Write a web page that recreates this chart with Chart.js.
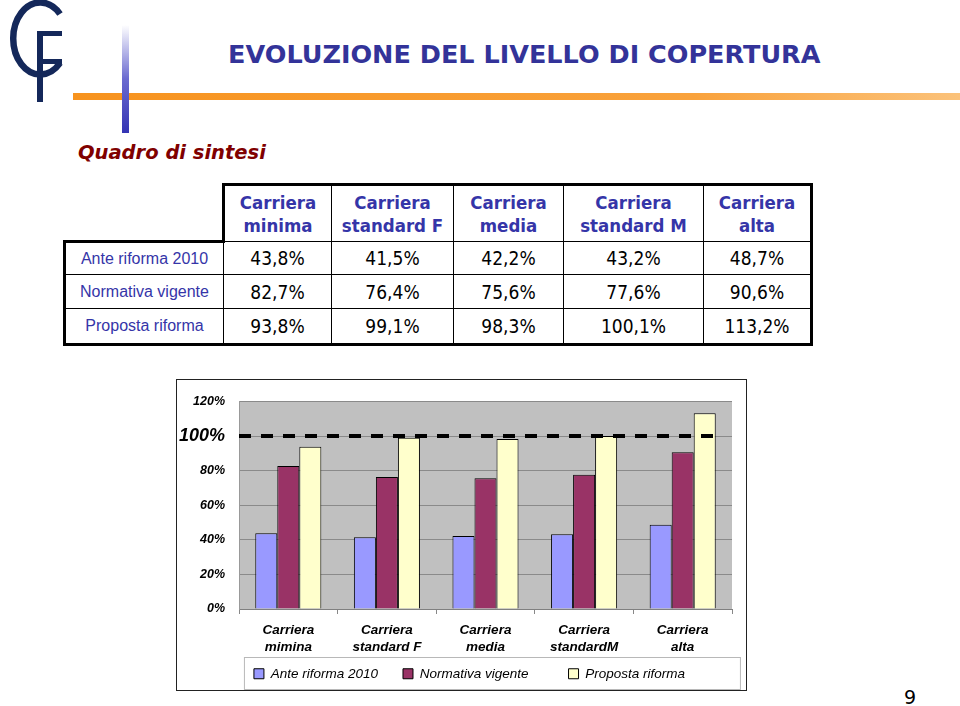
<!DOCTYPE html>
<html>
<head>
<meta charset="utf-8">
<script src="https://cdn.jsdelivr.net/npm/chart.js@4/dist/chart.umd.min.js"></script>
<style>
  html, body { margin: 0; padding: 0; background: #fff; }
  #page { position: relative; width: 960px; height: 706px; overflow: hidden; }
  #logo { position: absolute; left: 0; top: 0; }
  #hline { position: absolute; left: 73px; top: 93px; width: 887px; height: 7px;
           background: linear-gradient(to right, #f7931e, #f9a23c 70%, #fbc27a); }
  #vline { position: absolute; left: 122px; top: 25px; width: 7px; height: 108px;
           background: linear-gradient(to bottom, #ffffff, #6a6ad0 50%, #3434b4); }
  #title { position: absolute; left: 228px; top: 39px; font-family: "DejaVu Sans", sans-serif;
           font-weight: bold; font-size: 25.5px; color: #333399; white-space: nowrap; }
  #subtitle { position: absolute; left: 78px; top: 141px; font-family: "DejaVu Sans", sans-serif;
              font-weight: bold; font-style: italic; font-size: 19.5px; color: #800000; white-space: nowrap; }
  #tbl { position: absolute; left: 63px; top: 183px; border-collapse: collapse; table-layout: fixed; }
  #tbl td { border: 1px solid #000; text-align: center; padding: 0; }
  #tbl tr.head td { height: 55px; font-family: "DejaVu Sans Condensed", "DejaVu Sans", sans-serif;
                    font-weight: bold; font-size: 18.5px; color: #3535a8; line-height: 23px;
                    border-top: 3px solid #000; }
  #tbl tr.head td.corner { border: none; }
  #tbl td.lab { font-family: "Liberation Sans", Arial, sans-serif; font-size: 16px; color: #3535a8;
                border-left: 3px solid #000; }
  #tbl td.val { font-family: "DejaVu Sans Condensed", "DejaVu Sans", sans-serif; font-size: 19px; color: #000; }
  #tbl td.last { border-right: 3px solid #000; }
  #tbl tr.r1 td { height: 31px; }
  #tbl tr.r1 td.lab { border-top: 3px solid #000; }
  #tbl tr.r2 td { height: 33px; }
  #tbl tr.r3 td { height: 34px; border-bottom: 3px solid #000; }
  #tbl tr.head td.first { border-left: 3px solid #000; }
  #chartBox { position: absolute; left: 176px; top: 379px; width: 571px; height: 312px;
              box-sizing: border-box; border: 1px solid #222; background: #fff; }
  #pnum { position: absolute; left: 904px; top: 686px; font-family: "DejaVu Sans", sans-serif;
          font-size: 19px; color: #000; }
</style>
</head>
<body>
<div id="page">
  <svg id="logo" width="80" height="110" viewBox="0 0 80 110">
    <path d="M 60 14 A 27 36 0 1 0 60 63" fill="none" stroke="#14285a" stroke-width="6.5"/>
    <rect x="37" y="31" width="6" height="71" fill="#14285a"/>
    <rect x="37" y="31" width="25" height="5" fill="#14285a"/>
    <rect x="37" y="59" width="25" height="5" fill="#14285a"/>
  </svg>
  <div id="hline"></div>
  <div id="vline"></div>
  <div id="title">EVOLUZIONE DEL LIVELLO DI COPERTURA</div>
  <div id="subtitle">Quadro di sintesi</div>

  <table id="tbl">
    <colgroup>
      <col style="width:159px"><col style="width:108px"><col style="width:122px">
      <col style="width:110px"><col style="width:140px"><col style="width:108px">
    </colgroup>
    <tr class="head">
      <td class="corner"></td>
      <td class="first">Carriera<br>minima</td>
      <td>Carriera<br>standard F</td>
      <td>Carriera<br>media</td>
      <td>Carriera<br>standard M</td>
      <td class="last">Carriera<br>alta</td>
    </tr>
    <tr class="r1"><td class="lab">Ante riforma 2010</td><td class="val">43,8%</td><td class="val">41,5%</td><td class="val">42,2%</td><td class="val">43,2%</td><td class="val last">48,7%</td></tr>
    <tr class="r2"><td class="lab">Normativa vigente</td><td class="val">82,7%</td><td class="val">76,4%</td><td class="val">75,6%</td><td class="val">77,6%</td><td class="val last">90,6%</td></tr>
    <tr class="r3"><td class="lab">Proposta riforma</td><td class="val">93,8%</td><td class="val">99,1%</td><td class="val">98,3%</td><td class="val">100,1%</td><td class="val last">113,2%</td></tr>
  </table>

  <div id="chartBox"><canvas id="coverChart"></canvas></div>
  <div id="pnum">9</div>
</div>

<script>
// chart data (percent)
const categories = [
  ['Carriera', 'mimina'],
  ['Carriera', 'standard F'],
  ['Carriera', 'media'],
  ['Carriera', 'standardM'],
  ['Carriera', 'alta']
];
const seriesNames = ['Ante riforma 2010', 'Normativa vigente', 'Proposta riforma'];
const anteRiforma = [43.8, 41.5, 42.2, 43.2, 48.7];
const normativaVigente = [82.7, 76.4, 75.6, 77.6, 90.6];
const propostaRiforma = [93.8, 99.1, 98.3, 100.1, 113.2];
const yTicks = [0, 20, 40, 60, 80, 100, 120];
const refLine = 100;

const colors = ['#9999ff', '#993366', '#ffffcc'];
const legendGap = [4, 8, 0]; // extra spaces after legend text

const plotBg = {
  id: 'plotBg',
  beforeDraw(chart) {
    const { ctx, chartArea: a } = chart;
    ctx.save();
    ctx.fillStyle = '#c0c0c0';
    ctx.fillRect(a.left, a.top, a.right - a.left, a.bottom - a.top);
    ctx.restore();
  }
};

const dashLine = {
  id: 'dashLine',
  afterDatasetsDraw(chart) {
    const { ctx, chartArea: a, scales } = chart;
    const y = scales.y.getPixelForValue(refLine);
    ctx.save();
    ctx.strokeStyle = '#000';
    ctx.lineWidth = 4;
    ctx.setLineDash([12, 10]);
    ctx.beginPath();
    ctx.moveTo(a.left, y);
    ctx.lineTo(a.right - 9, y);
    ctx.stroke();
    ctx.restore();
  }
};

// legend sits a bit right of centre in the original
const legendFrame = {
  id: 'legendFrame',
  afterLayout(chart) {
    chart.legend.left += 15;
    chart.legend.right += 15;
  },
  afterDraw(chart) {
    const lg = chart.legend;
    const hb = lg.legendHitBoxes;
    if (!hb || !hb.length) return;
    const left = hb[0].left - 10;
    const ctx = chart.ctx;
    ctx.save();
    ctx.strokeStyle = '#b8b8b8';
    ctx.lineWidth = 1;
    ctx.strokeRect(left + 0.5, lg.top + 0.5, 496, 32);
    ctx.restore();
  }
};

new Chart(document.getElementById('coverChart'), {
  type: 'bar',
  data: {
    labels: categories,
    datasets: [
      { label: seriesNames[0], data: anteRiforma, backgroundColor: colors[0] },
      { label: seriesNames[1], data: normativaVigente, backgroundColor: colors[1] },
      { label: seriesNames[2], data: propostaRiforma, backgroundColor: colors[2] }
    ]
  },
  options: {
    responsive: true,
    maintainAspectRatio: false,
    animation: false,
    layout: { padding: { top: 20, right: 14, left: 0, bottom: 0 } },
    datasets: {
      bar: { borderColor: '#000', borderWidth: 1, categoryPercentage: 0.67, barPercentage: 1 }
    },
    scales: {
      x: {
        grid: { drawOnChartArea: false, drawTicks: true, tickLength: 5, color: '#888' },
        border: { display: true, color: '#808080' },
        ticks: {
          color: '#000',
          padding: 8,
          maxRotation: 0,
          font: { family: '"Liberation Sans", Arial, sans-serif', size: 13.5, weight: 'bold', style: 'italic', lineHeight: 1.25 }
        },
        afterFit: s => { s.height = 48; }
      },
      y: {
        min: 0,
        max: 120,
        afterBuildTicks: s => { s.ticks = yTicks.map(v => ({ value: v })); },
        grid: { color: '#8a8a8a', drawTicks: false },
        border: { display: true, color: '#999' },
        ticks: {
          color: '#000',
          padding: 14,
          callback: v => v + '%',
          font: ctx => ({
            family: '"Liberation Sans", Arial, sans-serif',
            size: ctx.tick && ctx.tick.value === refLine ? 18 : 12.5,
            weight: 'bold',
            style: 'italic'
          })
        },
        afterFit: s => { s.width = 62; }
      }
    },
    plugins: {
      tooltip: { enabled: false },
      legend: {
        position: 'bottom',
        maxHeight: 33,
        labels: {
          boxWidth: 10,
          boxHeight: 10,
          padding: 10,
          color: '#000',
          font: { family: '"Liberation Sans", Arial, sans-serif', size: 13.5, style: 'italic' },
          generateLabels: chart => chart.data.datasets.map((ds, i) => ({
            text: ds.label + ' '.repeat(legendGap[i]),
            fillStyle: ds.backgroundColor,
            strokeStyle: '#000',
            lineWidth: 1,
            fontColor: '#000',
            hidden: false,
            datasetIndex: i
          }))
        }
      }
    }
  },
  plugins: [plotBg, dashLine, legendFrame]
});
</script>
</body>
</html>
